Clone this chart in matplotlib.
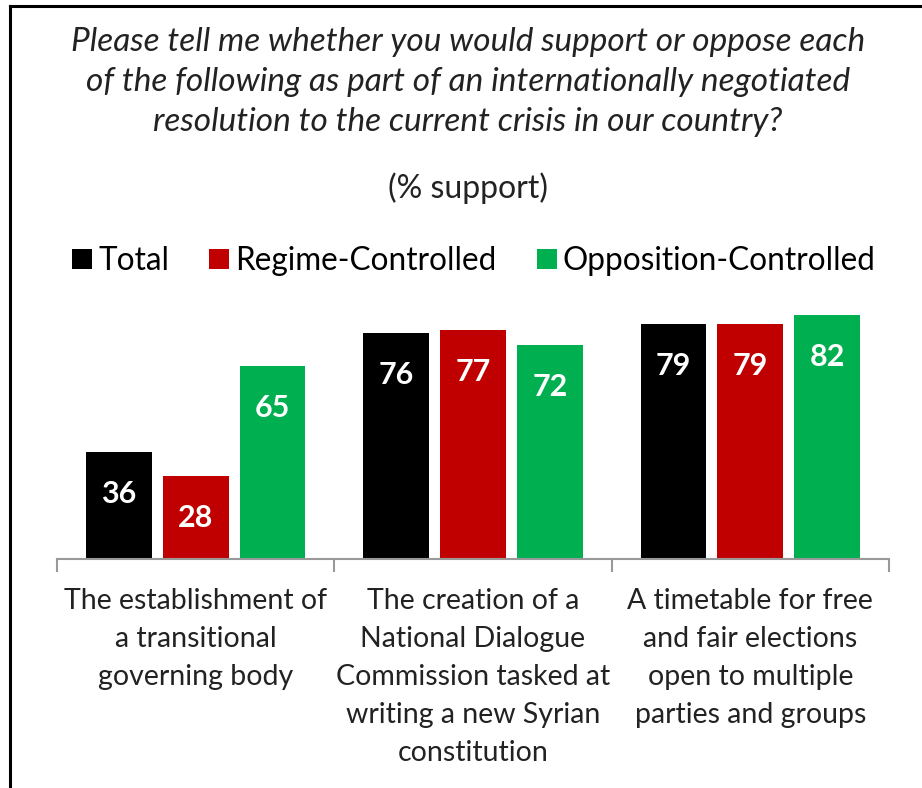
import matplotlib.pyplot as plt
from matplotlib.lines import Line2D

plt.rcParams['font.family'] = ['Lato', 'DejaVu Sans']

categories = [
    'The establishment of\na transitional\ngoverning body',
    'The creation of a\nNational Dialogue\nCommission tasked at\nwriting a new Syrian\nconstitution',
    'A timetable for free\nand fair elections\nopen to multiple\nparties and groups',
]
series_names = ['Total', 'Regime-Controlled', 'Opposition-Controlled']
total = [36, 76, 79]
regime = [28, 77, 79]
opposition = [65, 72, 82]
colors = ['#000000', '#C00000', '#00B050']

W, H = 922, 788
fig = plt.figure(figsize=(W / 100, H / 100), dpi=100)
ax = fig.add_axes([57 / W, 1 - 559 / H, (889 - 57) / W, 297 / H])

width = 0.237
step = 0.277
bars = []
for i, (vals, col) in enumerate(zip([total, regime, opposition], colors)):
    xs = [k + (i - 1) * step for k in range(len(categories))]
    b = ax.bar(xs, vals, width=width, color=col, label=series_names[i])
    bars.append(b)
    for x, v in zip(xs, vals):
        ax.annotate(str(v), (x, v), xytext=(0, -30), textcoords='offset points',
                    ha='center', va='center', color='white',
                    fontsize=22, fontweight='bold')

ax.set_xlim(-0.5, 2.5)
ax.set_ylim(0, 100)
for s in ['top', 'right', 'left']:
    ax.spines[s].set_visible(False)
ax.spines['bottom'].set_color('#999999')
ax.spines['bottom'].set_linewidth(1.5)
ax.set_yticks([])
ax.set_xticks([0, 1, 2])
ax.set_xticklabels(categories, fontsize=20.5, linespacing=1.57, va='top',
                   color='#222222')
ax.tick_params(axis='x', which='major', length=0, pad=21)
ax.set_xticks([-0.5, 0.5, 1.5, 2.5], minor=True)
ax.tick_params(axis='x', which='minor', length=9, width=1.5, color='#999999')

fig.text(468 / W, 1 - 82 / H,
         'Please tell me whether you would support or oppose each\n'
         'of the following as part of an internationally negotiated\n'
         'resolution to the current crisis in our country?',
         ha='center', va='center', fontsize=24, style='italic',
         linespacing=1.42, color='#222222')
fig.text(468 / W, 1 - 188 / H, '(% support)', ha='center', va='center',
         fontsize=23, color='#222222')

fig.legend(handles=bars, loc='center', bbox_to_anchor=(474 / W, 1 - 261 / H),
           ncol=3, frameon=False, fontsize=22.7, handlelength=0.63,
           handleheight=0.63, handletextpad=0.2, columnspacing=1.27)

fig.add_artist(Line2D([10 / W, 1], [1 - 6 / H, 1 - 6 / H], color='black', lw=2.2))
fig.add_artist(Line2D([10 / W, 10 / W], [0, 1 - 6 / H], color='black', lw=2.2))

fig.savefig('out.png', dpi=100)
